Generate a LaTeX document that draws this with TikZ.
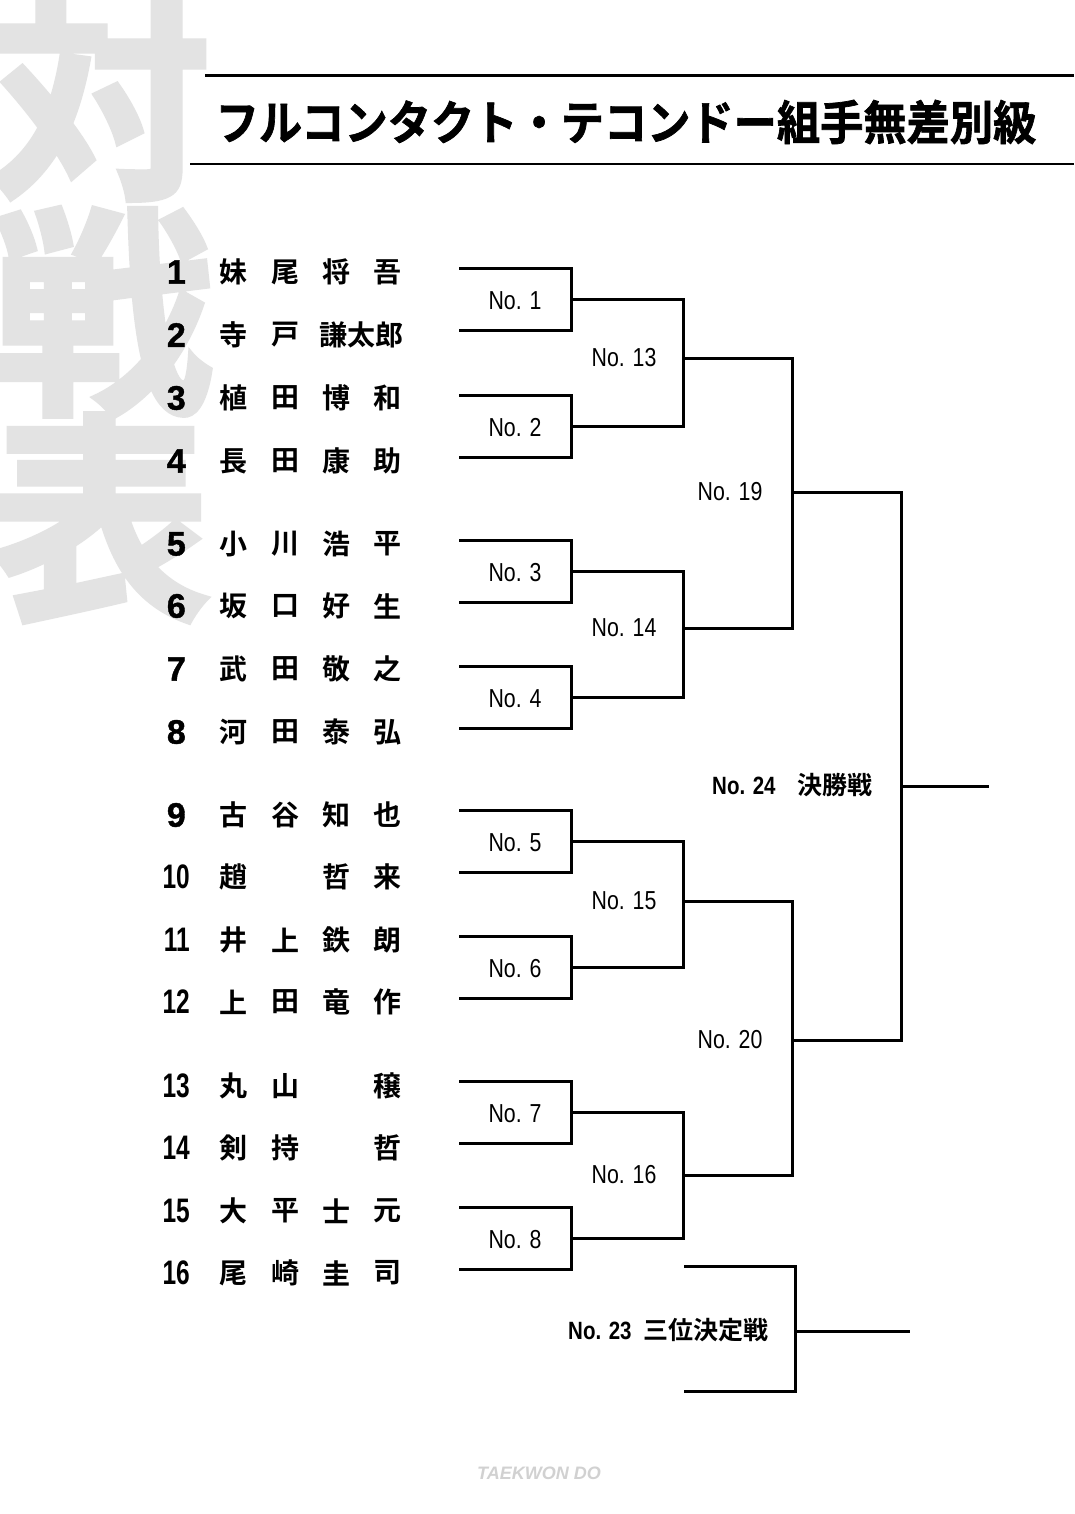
\documentclass[tikz,border=0pt]{standalone}
\usepackage{fontspec}
\usepackage{graphicx}
\newfontfamily\jp{Noto Sans CJK JP}[BoldFont={Noto Sans CJK JP Bold}]
\newfontfamily\jpheavy{Noto Sans CJK JP Bold}[FakeBold=2.5]
\newfontfamily\jptitle{Noto Sans CJK JP Bold}[FakeBold=1.5]
\newfontfamily\lat{Liberation Sans}
\newfontfamily\numheavy{Liberation Sans Bold}[FakeBold=1.2]
\begin{document}
\begin{tikzpicture}[x=1pt,y=-1pt,
  br/.style={line width=3pt, line join=miter, line cap=rect},
  bigchar/.style={text=black!11, font=\jpheavy\fontsize{222}{222}\selectfont, inner sep=0pt},
  numlab/.style={font=\numheavy\fontsize{34}{34}\selectfont, inner sep=0pt, anchor=east},
  namech/.style={font=\jp\bfseries\fontsize{28}{28}\selectfont, inner sep=0pt},
  matchlab/.style={font=\lat\fontsize{26}{26}\selectfont, inner sep=0pt},
  finlab/.style={font=\bfseries\fontsize{25}{25}\selectfont, inner sep=0pt}
]
\useasboundingbox (0,0) rectangle (1074,1514);
\fill[white] (0,0) rectangle (1074,1514);
% big background characters
\node[bigchar] (kt) at (100,96) {対};
\node[bigchar] (ks) at (102,312) {戦};
\node[bigchar] (kh) at (100,518) {表};
% title rules and title
\coordinate (tl1a) at (205,76); \coordinate (tl1b) at (1074,76);
\coordinate (tl2a) at (190,164); \coordinate (tl2b) at (1074,164);
\draw[line width=3pt] (tl1a) -- (tl1b);
\draw[line width=2pt] (tl2a) -- (tl2b);
\node[inner sep=0pt, font=\jptitle\fontsize{47}{47}\selectfont] (title) at (626,122)
  {\scalebox{0.92}[1]{フルコンタクト・テコンドー組手無差別級}};
% players
\foreach \n/\y/\a/\b/\c/\d in {
  1/272/妹/尾/将/吾, 2/335/寺/戸//, 3/398/植/田/博/和, 4/461/長/田/康/助,
  5/544/小/川/浩/平, 6/606/坂/口/好/生, 7/669/武/田/敬/之, 8/732/河/田/泰/弘,
  9/815/古/谷/知/也, 10/877/趙//哲/来, 11/940/井/上/鉄/朗, 12/1002/上/田/竜/作,
  13/1086/丸/山//穣, 14/1148/剣/持//哲, 15/1211/大/平/士/元, 16/1273/尾/崎/圭/司}{
  \ifnum\n<10
    \node[numlab] (num\n) at (186,\y) {\n};
  \else
    \node[numlab, font=\lat\bfseries\fontsize{34}{34}\selectfont] (num\n) at (190,\y) {\scalebox{0.72}[1]{\n}};
  \fi
  \node[namech] (pa\n) at (233,\y) {\a};
  \node[namech] (pb\n) at (285,\y) {\b};
  \node[namech] (pc\n) at (336,\y) {\c};
  \node[namech] (pd\n) at (387,\y) {\d};
}
\node[namech] (p2given) at (361,335) {謙太郎};
% first round brackets
\foreach \i/\t in {1/268, 2/395, 3/540, 4/666, 5/810, 6/936, 7/1081, 8/1207}{
  \pgfmathsetmacro{\bb}{\t+62}
  \coordinate (a\i) at (460,\t);
  \coordinate (b\i) at (460,\bb);
  \coordinate (v\i) at (571,\t+31);
  \draw[br] (a\i) -| (v\i) |- (b\i);
  \node[matchlab] (m\i) at (515,\t+33) {\scalebox{0.82}[1]{No. \i}};
}
% second round
\foreach \j/\p/\q/\num/\ly in {1/1/2/13/358, 2/3/4/14/628, 3/5/6/15/901, 4/7/8/16/1175}{
  \coordinate (w\j) at (683,\ly);
  \draw[br] (v\p) -| (w\j) |- (v\q);
  \node[matchlab] (n\j) at (624,\ly) {\scalebox{0.82}[1]{No. \num}};
}
% third round
\coordinate (x1) at (792,492);
\coordinate (x2) at (792,1040);
\draw[br] (w1) -| (x1) |- (w2);
\draw[br] (w3) -| (x2) |- (w4);
\node[matchlab] (l19) at (730,492) {\scalebox{0.82}[1]{No. 19}};
\node[matchlab] (l20) at (730,1040) {\scalebox{0.82}[1]{No. 20}};
% final
\coordinate (fv) at (901,786);
\coordinate (fo) at (987,786);
\draw[br] (x1) -| (fv) |- (x2);
\draw[br] (fv) -- (fo);
\node[finlab, anchor=west] (l24) at (712,785) {\scalebox{0.82}[1]{\lat\bfseries No. 24}\hspace{22pt}{\jp\bfseries 決勝戦}};
% third place
\coordinate (t1) at (685,1266);
\coordinate (t2) at (685,1391);
\coordinate (tv) at (795,1331);
\coordinate (to) at (908,1331);
\draw[br] (t1) -| (tv) |- (t2);
\draw[br] (tv) -- (to);
\node[finlab, anchor=west] (l23) at (568,1330) {\scalebox{0.82}[1]{\lat\bfseries No. 23}\hspace{12pt}{\jp\bfseries 三位決定戦}};
% footer
\node[inner sep=0pt, text=black!18, font=\lat\bfseries\itshape\fontsize{18}{18}\selectfont] (foot) at (539,1473) {TAEKWON DO};
\end{tikzpicture}
\end{document}
